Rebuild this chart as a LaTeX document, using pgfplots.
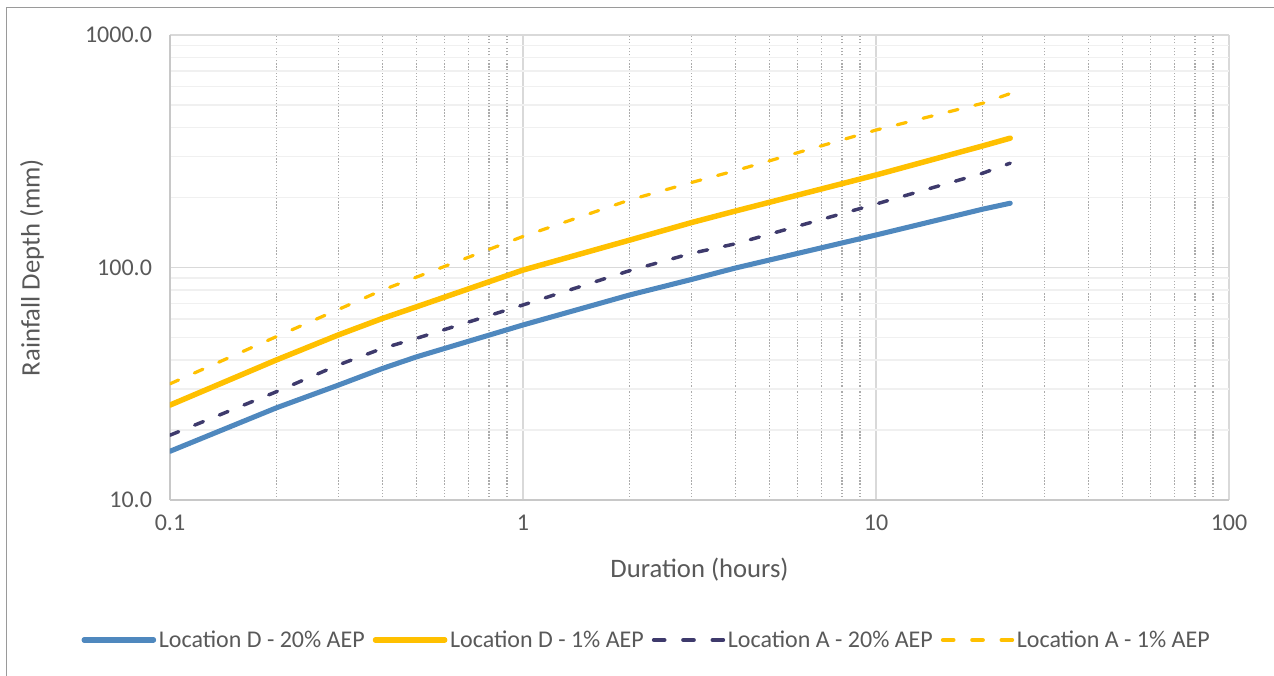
\documentclass[border=0pt]{standalone}
\usepackage{pgfplots}
\pgfplotsset{compat=1.18}
\usepackage{fontspec}
\setmainfont{Carlito}
\definecolor{dblue}{HTML}{4F88BE}
\definecolor{dyellow}{HTML}{FFC000}
\definecolor{anavy}{HTML}{3E3A6C}
\definecolor{textgray}{HTML}{595959}
\definecolor{framegray}{HTML}{9A9A9A}
\definecolor{axgray}{HTML}{C8C8C8}
\definecolor{majgrid}{HTML}{D9D9D9}
\definecolor{mingridx}{HTML}{ABABAB}
\definecolor{mingridy}{HTML}{F0F0F0}
\begin{document}
\begin{tikzpicture}[x=1pt,y=1pt]
\path[use as bounding box] (0,0) rectangle (955.5,506.25);
\draw[color=framegray, line width=1pt] (5,-2) -- (5,500.8) -- (957,500.8);
\begin{axis}[
  at={(127.5pt,131.25pt)}, anchor=south west,
  scale only axis, width=794.25pt, height=348.75pt,
  xmode=log, ymode=log,
  xmin=0.1, xmax=100, ymin=10, ymax=1000,
  xtick={0.1,1,10,100}, xticklabels={0.1,1,10,100},
  ytick={10,100,1000}, yticklabels={10.0,100.0,1000.0},
  minor xtick={0.2,0.3,0.4,0.5,0.6,0.7,0.8,0.9,2,3,4,5,6,7,8,9,20,30,40,50,60,70,80,90},
  minor ytick={20,30,40,50,60,70,80,90,200,300,400,500,600,700,800,900},
  xmajorgrids, ymajorgrids, xminorgrids, yminorgrids,
  major grid style={draw=majgrid, line width=1pt},
  minor x grid style={draw=mingridx, line width=1.1pt, dash pattern=on 0.9pt off 1.4pt},
  minor y grid style={draw=mingridy, line width=1pt},
  major tick length=0pt, minor tick length=0pt,
  axis x line*=bottom, axis y line*=left,
  axis line style={draw=axgray, line width=1.5pt, -},
  tick label style={font=\fontsize{18}{20}\selectfont, text=textgray},
  yticklabel style={xshift=-10pt},
  xticklabel style={yshift=-8pt},
  xlabel={Duration (hours)}, ylabel={Rainfall Depth (mm)},
  label style={font=\fontsize{20}{22}\selectfont, text=textgray},
  xlabel style={at={(rel axis cs:0.5,0)}, anchor=center, yshift=-52.5pt},
  ylabel style={at={(rel axis cs:0,0.5)}, anchor=center, yshift=103.5pt},
  legend columns=4,
  legend style={at={(rel axis cs:0.4504,-0.301)}, anchor=center, draw=none, fill=none,
    font=\fontsize{18}{20}\selectfont, text=textgray,
    /tikz/every even column/.style={column sep=4pt},
    inner sep=0pt},
  legend image code/.code={\draw[#1] (0pt,0pt) -- (52pt,0pt);},
  clip=true,
]
\addplot[forget plot, color=dblue, line width=3.8pt, line cap=round, line join=round] coordinates {
(0.1,16.2) (0.2,24.9) (0.3,31.2) (0.4,36.8) (0.5,41.3) (1,56.6) (2,76.1) (3,88.8) (4,99.5) (10,138) (20,178) (24,189)};
\addplot[forget plot, color=dyellow, line width=4.1pt, line cap=round, line join=round] coordinates {
(0.1,25.6) (0.2,40.0) (0.3,51.3) (0.4,60.4) (0.5,67.8) (1,97.5) (2,131) (3,156) (4,175) (10,250) (20,333) (24,360)};
\addplot[forget plot, color=anavy, line width=2.6pt, line cap=round, dash pattern=on 7pt off 13pt] coordinates {
(0.1,19.0) (0.2,29.2) (0.3,38.1) (0.4,44.9) (0.5,49.6) (1,69) (2,96.8) (3,115) (4,126.5) (10,187.5) (20,254) (24,281)};
\addplot[forget plot, color=dyellow, line width=2.4pt, line cap=round, dash pattern=on 7pt off 13pt] coordinates {
(0.1,31.6) (0.2,50.4) (0.3,66) (0.4,80) (0.5,91) (1,136) (2,195) (3,232) (4,261) (10,390) (20,508) (24,560)};
\addlegendimage{color=dblue, line width=4pt, line cap=round}
\addlegendentry{Location D - 20\% AEP}
\addlegendimage{color=dyellow, line width=4pt, line cap=round}
\addlegendentry{Location D - 1\% AEP}
\addlegendimage{color=anavy, line width=3pt, line cap=round, dash pattern=on 8pt off 14pt}
\addlegendentry{Location A - 20\% AEP}
\addlegendimage{color=dyellow, line width=3pt, line cap=round, dash pattern=on 8pt off 14pt}
\addlegendentry{Location A - 1\% AEP}
\end{axis}
\end{tikzpicture}
\end{document}
